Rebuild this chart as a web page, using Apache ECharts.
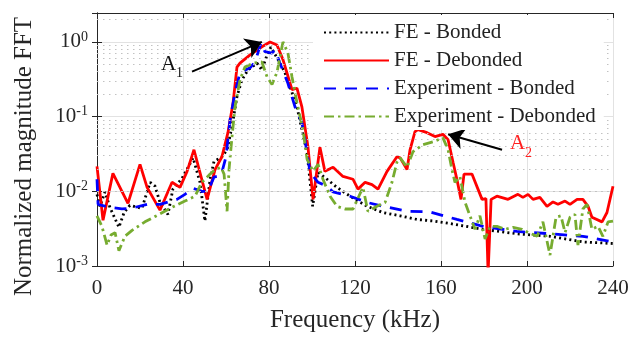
<!DOCTYPE html>
<html><head><meta charset="utf-8">
<script src="https://cdn.jsdelivr.net/npm/echarts@6/dist/echarts.min.js"></script>
<style>html,body{margin:0;padding:0;background:#fff}#c{width:632px;height:338px}</style>
</head><body><div id="c"></div>
<script>
// ---- axis ticks ----
const xTicks = [0, 40, 80, 120, 160, 200, 240];
const yDecades = [-3, -2, -1, 0];

// ---- FE - Bonded (black dotted) ----
const feBondedF = [0,1.4,3.7,6,10.2,12.6,15.3,20.9,24.7,27,29.3,33,35.3,39.5,44.7,47.9,50.2,52.6,54.4,58.1,60.5,62.8,65.1,67.4,70.2,74.4,76.7,79.1,80.9,84.2,87.4,90.7,93,95.3,97.7,100.3,102.8,107,111.6,117.7,125.6,133,140.9,148.8,156.3,164.2,179.5,195.3,210.7,226,240];
const feBondedV = [0.0091,0.0063,0.0098,0.0061,0.0033,0.0052,0.0065,0.0059,0.0132,0.0117,0.0071,0.0049,0.0107,0.0148,0.028,0.0132,0.004,0.0145,0.025,0.029,0.036,0.074,0.185,0.31,0.42,0.52,0.42,0.67,0.85,0.58,0.39,0.21,0.135,0.067,0.033,0.0063,0.018,0.0145,0.0113,0.0086,0.0063,0.0052,0.0047,0.0042,0.004,0.0037,0.0031,0.0027,0.0025,0.0021,0.002];

// ---- FE - Debonded (red solid) ----
const feDebondedF = [0,2.8,7.4,14.4,20,23.3,29.3,34.9,38.6,41.9,45.1,51.2,54.9,58.1,60.9,63.3,65.1,66.5,71.2,76.7,80.5,83.7,86.5,90.7,93,95.3,98.1,100.5,103.7,106,109.8,114.4,119.1,121.4,124.7,127.9,130.7,134.9,139.5,141,144.2,145.6,147.9,149.3,153.5,157.2,160.9,163.3,165.6,167.5,169.3,170.7,174.4,177.2,179.1,180.9,181.9,183.3,186,191.2,195.8,198.1,200.5,202.8,206,209.3,212.1,214.4,217.7,220,223.3,226,228.4,230.2,234.9,237.2,240];
const feDebondedV = [0.0216,0.0041,0.0174,0.0069,0.0229,0.0113,0.0056,0.0132,0.0113,0.0185,0.036,0.0078,0.0195,0.029,0.061,0.154,0.46,0.52,0.67,0.86,1.0,0.91,0.58,0.23,0.24,0.135,0.04,0.0078,0.039,0.0185,0.021,0.0158,0.0145,0.0107,0.0132,0.0123,0.0107,0.0185,0.029,0.028,0.0195,0.036,0.063,0.067,0.061,0.054,0.058,0.049,0.0245,0.014,0.0078,0.017,0.017,0.0107,0.0078,0.008,0.0008,0.0078,0.0086,0.0078,0.0091,0.0083,0.0091,0.0078,0.0083,0.0063,0.0072,0.0067,0.0074,0.0067,0.0078,0.0078,0.0063,0.0045,0.0039,0.0052,0.0117];

// ---- Experiment - Bonded (blue dashed) ----
const expBondedF = [0,0.5,6,11.6,16.7,23.3,29.3,37.2,40.9,44.7,48.8,51.6,54.4,57.7,60,61.9,64.2,66.5,71.2,73.5,76.3,78.1,81.4,82.8,85.1,88.8,92.1,95.3,96.7,99.1,102.8,107,109.8,117.7,125.6,133,144.2,154.9,167.4,179.5,195.3,210.7,226,240];
const expBondedV = [0.0145,0.0067,0.0061,0.0058,0.006,0.0067,0.0067,0.0078,0.0091,0.011,0.01,0.01,0.0155,0.0163,0.029,0.091,0.21,0.39,0.45,0.54,0.97,0.74,0.71,0.78,0.52,0.28,0.135,0.083,0.049,0.018,0.0132,0.0117,0.0098,0.0086,0.0071,0.0063,0.0054,0.0053,0.0042,0.0034,0.0029,0.0027,0.0025,0.0021];

// ---- Experiment - Debonded (green dash-dot) ----
const expDebondedF = [0,2.3,4.7,6.5,8.4,10.2,13,16.3,22.3,28.8,34.9,40.9,45.6,48.8,52.6,54.9,57.7,59.1,60.5,61.4,62.8,64.2,66.5,68.8,72.6,76.7,79.1,81.4,83.7,85.6,86.5,88.8,90.7,93,95.8,97.7,100.5,102.8,105.1,108.4,111.6,115.3,119.1,123.7,126,130.2,134,137.2,139.5,141,144.2,147,151.6,156.3,160.9,163.3,165.1,166.5,168.8,171.2,173.5,175.8,178.1,180.5,182.8,186,189.8,193.5,197.7,200.5,204.7,207.4,210.7,213.5,215.8,217.7,220,222.3,223.7,226,227.9,230.2,233,235.3,237.7,240];
const expDebondedV = [0.0047,0.0034,0.0019,0.0026,0.0028,0.0016,0.0025,0.003,0.0039,0.0049,0.0061,0.0074,0.0086,0.0132,0.017,0.0195,0.021,0.017,0.0054,0.0195,0.054,0.135,0.31,0.46,0.52,0.54,0.34,0.27,0.39,0.74,1.0,0.71,0.34,0.154,0.067,0.027,0.0185,0.023,0.0145,0.0086,0.0063,0.0058,0.0058,0.0113,0.0054,0.0063,0.0071,0.0132,0.0245,0.028,0.021,0.034,0.042,0.046,0.052,0.036,0.0195,0.0132,0.0158,0.0071,0.0047,0.0031,0.0047,0.0023,0.0034,0.0034,0.0031,0.0033,0.0031,0.0028,0.0025,0.0039,0.0014,0.0045,0.0047,0.0028,0.0045,0.0049,0.0019,0.0058,0.0067,0.0031,0.0034,0.0025,0.0039,0.004];

// ---- annotations (data coordinates) ----
const arrowA1 = [[44.2, 0.40], [76.7, 1.0]];
const arrowA2 = [[188.4, 0.036], [163.3, 0.058]];
const labelA1 = [34.9, 0.46];
const labelA2 = [197.2, 0.040];

const X_MIN = 0, X_MAX = 240, Y_MIN = 0.001, Y_MAX = 2.44;

const zip = (f, v) => f.map((x, i) => [x, v[i]]);
const serif = 'Liberation Serif, Times New Roman, serif';
const axisColor = '#262626';

// minor grid values 2..9 x 10^n
const minorGrid = [];
for (const d of yDecades) for (let k = 2; k <= 9; k++) {
  const v = k * Math.pow(10, d);
  if (v < Y_MAX) minorGrid.push(+v.toPrecision(3));
}

const supRich = {
  b: { fontFamily: serif, fontSize: 21, color: axisColor, lineHeight: 24 },
  s: { fontFamily: serif, fontSize: 14, color: axisColor, verticalAlign: 'top', lineHeight: 24, padding: [0, 0, 8, 0] }
};

const chart = echarts.init(document.getElementById('c'), null, { renderer: 'canvas' });
const lineBase = { type: 'line', symbol: 'none', showSymbol: false, animation: false, smooth: false, clip: true };

chart.setOption({
  animation: false,
  backgroundColor: '#fff',
  grid: { left: 97, right: 19, top: 13, bottom: 71, containLabel: false },
  legend: {
    orient: 'vertical', left: 313, top: 15,
    padding: [7, 8, 3, 10], itemGap: 7, itemWidth: 65, itemHeight: 14, itemTextGap: 9,
    backgroundColor: '#fff', z: 10,
    itemStyle: { opacity: 0, borderWidth: 0 },
    textStyle: { fontFamily: serif, fontSize: 21, color: '#222' },
    data: ['FE - Bonded', 'FE - Debonded', 'Experiment - Bonded', 'Experiment - Debonded']
  },
  xAxis: [{
    type: 'value', min: X_MIN, max: X_MAX, interval: 40, position: 'bottom',
    name: 'Frequency (kHz)', nameLocation: 'middle', nameGap: 42,
    nameTextStyle: { fontFamily: serif, fontSize: 25, color: axisColor },
    axisLine: { show: true, lineStyle: { color: axisColor, width: 1 } },
    axisTick: { show: true, inside: true, length: 5, lineStyle: { color: axisColor } },
    axisLabel: { margin: 12, fontFamily: serif, fontSize: 21, color: axisColor,
      formatter: v => xTicks.includes(v) ? String(v) : '' },
    splitLine: { show: true, lineStyle: { color: '#e2e2e2', width: 1 } }
  }, {
    type: 'value', min: X_MIN, max: X_MAX, interval: 40, position: 'top',
    axisLine: { show: true, lineStyle: { color: axisColor, width: 1 } },
    axisTick: { show: true, inside: true, length: 5, lineStyle: { color: axisColor } },
    axisLabel: { show: false }, splitLine: { show: false }
  }],
  yAxis: [{
    type: 'log', logBase: 10, min: Y_MIN, max: Y_MAX, position: 'left',
    name: 'Normalized magnitude FFT', nameLocation: 'middle', nameGap: 60,
    nameTextStyle: { fontFamily: serif, fontSize: 25, color: axisColor, padding: [0, 34, 0, 0] },
    axisLine: { show: true, lineStyle: { color: axisColor, width: 1 } },
    axisTick: { show: true, inside: true, length: 5, lineStyle: { color: axisColor } },
    axisLabel: {
      margin: 9, rich: supRich,
      formatter: v => {
        const l = Math.log10(v), e = Math.round(l);
        if (Math.abs(l - e) > 0.01 || !yDecades.includes(e)) return '';
        return '{b|10}{s|' + e + '}';
      }
    },
    splitLine: { show: true, lineStyle: { color: '#e2e2e2', width: 1 } }
  }, {
    type: 'log', logBase: 10, min: Y_MIN, max: Y_MAX, position: 'right',
    axisLine: { show: true, lineStyle: { color: axisColor, width: 1 } },
    axisTick: { show: true, inside: true, length: 5, lineStyle: { color: axisColor } },
    axisLabel: { show: false }, splitLine: { show: false }
  }],
  series: [
    {
      ...lineBase, name: '_minorGrid', data: [], z: 1, silent: true,
      markLine: {
        silent: true, symbol: 'none', animation: false, label: { show: false },
        lineStyle: { type: [1.5, 4.5], color: '#c2c2c2', width: 1 },
        emphasis: { disabled: true },
        data: minorGrid.map(v => ({ yAxis: v }))
      }
    },
    { ...lineBase, name: 'FE - Bonded', z: 3, data: zip(feBondedF, feBondedV),
      itemStyle: { color: '#000' },
      lineStyle: { color: '#000', width: 2.8, type: [2, 3.2] } },
    { ...lineBase, name: 'FE - Debonded', z: 3, data: zip(feDebondedF, feDebondedV),
      itemStyle: { color: '#ff0000' },
      lineStyle: { color: '#ff0000', width: 2.8, type: 'solid' } },
    { ...lineBase, name: 'Experiment - Bonded', z: 3, data: zip(expBondedF, expBondedV),
      itemStyle: { color: '#0000ff' },
      lineStyle: { color: '#0000ff', width: 2.8, type: [12, 9] } },
    { ...lineBase, name: 'Experiment - Debonded', z: 3, data: zip(expDebondedF, expDebondedV),
      itemStyle: { color: '#77ac30' },
      lineStyle: { color: '#77ac30', width: 2.8, type: [10, 4, 2.5, 4] } },
    {
      ...lineBase, name: '_annot', data: [], z: 5, silent: true,
      markLine: {
        silent: true, animation: false, symbol: ['none', 'arrow'], symbolSize: 16,
        label: { show: false }, emphasis: { disabled: true },
        lineStyle: { color: '#000', width: 2, type: 'solid' },
        data: [
          [{ coord: arrowA1[0] }, { coord: arrowA1[1] }],
          [{ coord: arrowA2[0] }, { coord: arrowA2[1] }]
        ]
      },
      markPoint: {
        silent: true, animation: false, symbol: 'circle', symbolSize: 0,
        data: [
          { coord: labelA1, label: { show: true, position: 'inside', formatter: '{a|A}{s|1}',
            rich: { a: { fontFamily: serif, fontSize: 21, color: '#111', padding: [0, 0, 6, 0] },
                    s: { fontFamily: serif, fontSize: 14, color: '#111', verticalAlign: 'bottom' } } } },
          { coord: labelA2, label: { show: true, position: 'inside', formatter: '{a|A}{s|2}',
            rich: { a: { fontFamily: serif, fontSize: 21, color: '#ff2020', padding: [0, 0, 6, 0] },
                    s: { fontFamily: serif, fontSize: 14, color: '#ff2020', verticalAlign: 'bottom' } } } }
        ]
      }
    }
  ]
});
</script></body></html>
